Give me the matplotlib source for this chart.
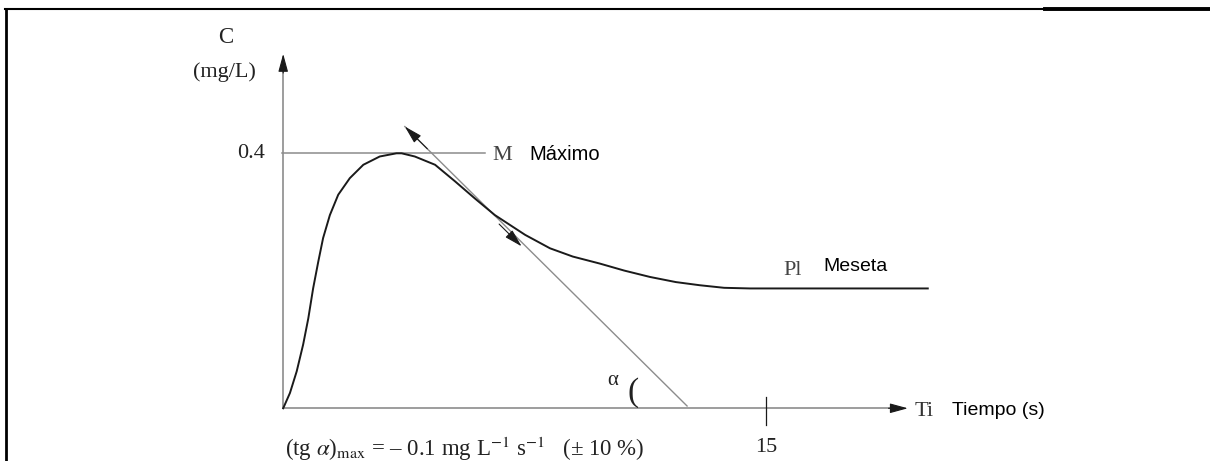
import matplotlib
matplotlib.use("Agg")
import matplotlib.pyplot as plt
from matplotlib.lines import Line2D

plt.rcParams['font.family'] = ['Liberation Serif', 'DejaVu Serif']
plt.rcParams['mathtext.fontset'] = 'stix'

# curve: time (s), C (mg/L)
t = [0.0, 0.21, 0.42, 0.62, 0.78, 0.93, 1.09, 1.24, 1.45, 1.71, 2.07, 2.49,
     3.00, 3.52, 3.68, 4.09, 4.72, 5.34, 5.96, 6.58, 7.52, 8.29, 9.00, 9.84,
     10.60, 11.40, 12.20, 12.95, 13.70, 14.50, 20.03]
c = [0.0, 0.024, 0.058, 0.100, 0.141, 0.188, 0.230, 0.267, 0.303, 0.335,
     0.361, 0.382, 0.395, 0.400, 0.400, 0.395, 0.382, 0.356, 0.329, 0.303,
     0.272, 0.251, 0.238, 0.227, 0.216, 0.206, 0.198, 0.193, 0.189, 0.188,
     0.188]

c_max = 0.4
t_max_line = 6.27       # end of the horizontal line at the maximum
tangent_t = [3.78, 12.55]
tangent_c = [0.442, 0.0036]
arrow_down = (7.41, 0.254)
x_tick = 15
x_end, y_end = 19.41, 0.556

gray = '#8c8c8c'
ink = '#1a1a1a'

fig = plt.figure(figsize=(12.1, 4.61), dpi=100)
ax = fig.add_axes([0, 0, 1, 1])
ax.set_xlim(-8.80, 28.80)
ax.set_ylim(-0.0827, 0.6405)
ax.axis('off')

# frame around the figure (left and top only)
fig.add_artist(Line2D([0.005, 0.005], [0.0, 0.981], transform=fig.transFigure,
                      color='black', lw=2))
fig.add_artist(Line2D([0.004, 0.864], [0.981, 0.981], transform=fig.transFigure,
                      color='black', lw=1.5))
fig.add_artist(Line2D([0.864, 1.0], [0.980, 0.980], transform=fig.transFigure,
                      color='black', lw=2.8))

head = '-|>,head_length=1.1,head_width=0.3'

# axes with arrows
ax.plot([0, 0], [0, y_end - 0.02], color=gray, lw=1.2)
ax.plot([0, x_end - 0.4], [0, 0], color=gray, lw=1.2)
ax.annotate('', xy=(0, y_end), xytext=(0, y_end - 0.03),
            arrowprops=dict(arrowstyle=head, color=ink, lw=0.8, shrinkA=0, shrinkB=0))
ax.annotate('', xy=(x_end, 0), xytext=(x_end - 0.6, 0),
            arrowprops=dict(arrowstyle=head, color=ink, lw=0.8, shrinkA=0, shrinkB=0))
ax.plot([x_tick, x_tick], [0.0177, -0.026], color=ink, lw=0.9)

# maximum line and tangent
ax.plot([-0.05, t_max_line], [c_max, c_max], color=gray, lw=1.1)
ax.plot(tangent_t, tangent_c, color=gray, lw=1.0)
slope = (tangent_c[1] - tangent_c[0]) / (tangent_t[1] - tangent_t[0])
ax.annotate('', xy=(tangent_t[0], tangent_c[0]),
            xytext=(tangent_t[0] + 0.7, tangent_c[0] + 0.7 * slope),
            arrowprops=dict(arrowstyle=head, color=ink, lw=0.8, shrinkA=0, shrinkB=0))
ax.annotate('', xy=arrow_down,
            xytext=(arrow_down[0] - 0.7, arrow_down[1] - 0.7 * slope),
            arrowprops=dict(arrowstyle=head, color=ink, lw=0.8, shrinkA=0, shrinkB=0))

# the curve
ax.plot(t, c, color=ink, lw=1.4, solid_joinstyle='round')

# serif labels of the original figure
ax.text(-1.78, 0.581, 'C', fontsize=16.5, ha='center', va='center', color='#222')
ax.text(-1.83, 0.5275, '(mg/L)', fontsize=16, ha='center', va='center', color='#222')
ax.text(-0.57, 0.400, '0.4', fontsize=16, ha='right', va='center', color='#222')
ax.text(6.51, 0.3895, 'M', fontsize=16, ha='left', va='baseline', color='#444')
ax.text(15.53, 0.209, 'Pl', fontsize=16, ha='left', va='baseline', color='#444')
ax.text(19.63, -0.0116, 'Ti', fontsize=16, ha='left', va='baseline', color='#333')
ax.text(15.0, -0.068, '15', fontsize=16, ha='center', va='baseline', color='#222')
ax.text(10.06, 0.036, 'α', fontsize=15, ha='left', va='baseline', color='#222')
ax.text(10.70, 0.012, '(', fontsize=24, ha='left', va='baseline', color='#222')
ax.text(0.05, -0.0748,
        r'(tg $\alpha$)$_{\rm max}$ = – 0.1 mg L$^{-1}$ s$^{-1}$   (± 10 %)',
        fontsize=16.5, ha='left', va='baseline', color='#222')

# Spanish labels
sans = ['Liberation Sans', 'DejaVu Sans']
ax.text(7.64, 0.3895, 'Máximo', fontsize=14.5, family=sans, ha='left', va='baseline', color='black')
ax.text(16.78, 0.216, 'Meseta', fontsize=14, family=sans, ha='left', va='baseline', color='black')
ax.text(20.77, -0.0105, 'Tiempo (s)', fontsize=14, family=sans, ha='left', va='baseline', color='black')

fig.savefig('out.png', dpi=100)
